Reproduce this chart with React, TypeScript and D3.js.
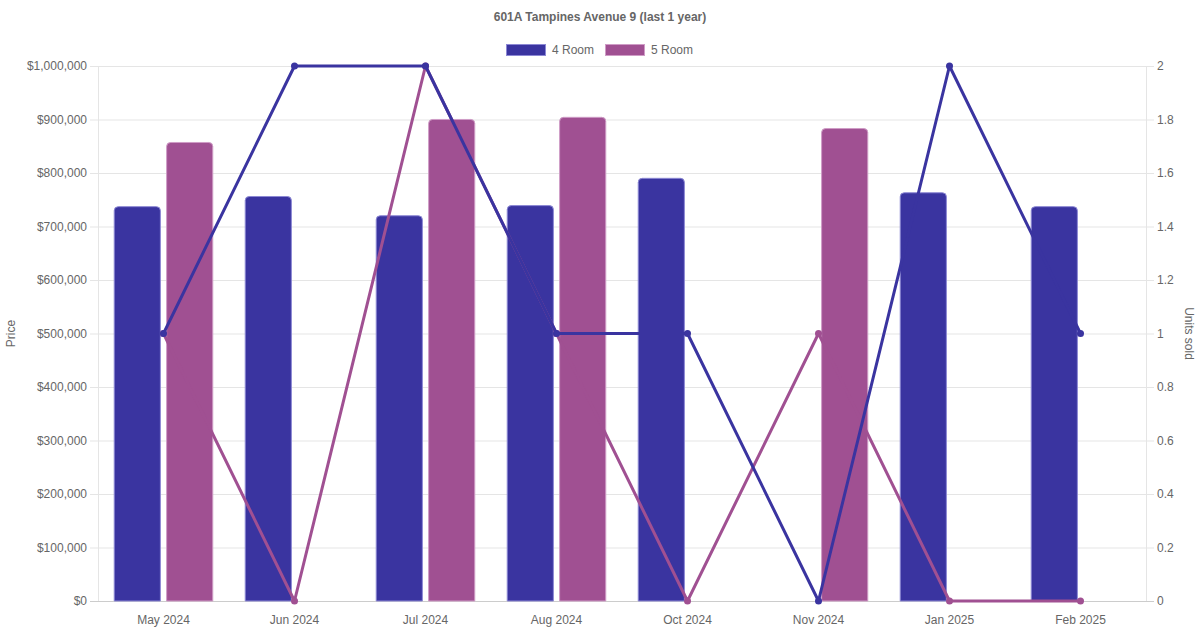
import { scaleBand, scaleLinear, line, format } from 'd3'

const months = ['May 2024', 'Jun 2024', 'Jul 2024', 'Aug 2024', 'Oct 2024', 'Nov 2024', 'Jan 2025', 'Feb 2025']
const price4: (number | null)[] = [738000, 757000, 721000, 740000, 791000, null, 764000, 738000]
const price5: (number | null)[] = [858000, null, 901000, 905000, null, 884000, null, null]
const units4 = [1, 2, 2, 1, 1, 0, 2, 1]
const units5 = [1, 0, 2, 1, 0, 1, 0, 0]
const priceTicks = [0, 100000, 200000, 300000, 400000, 500000, 600000, 700000, 800000, 900000, 1000000]
const unitTicks = [0, 0.2, 0.4, 0.6, 0.8, 1, 1.2, 1.4, 1.6, 1.8, 2]

const W = 1200
const H = 630
const left = 98
const right = 1146
const top = 66
const bottom = 601
const font = '"Liberation Sans", Arial, sans-serif'
const txt = '#666'
const grid = '#e5e5e5'

const series = [
  { name: '4 Room', fill: '#3a34a0', stroke: '#8c88d4', prices: price4, units: units4 },
  { name: '5 Room', fill: '#a05092', stroke: '#cf9cc6', prices: price5, units: units5 },
]

function barPath(x: number, y: number, w: number, h: number, r: number) {
  const rr = Math.min(r, h, w / 2)
  return `M${x},${y + h}V${y + rr}Q${x},${y} ${x + rr},${y}H${x + w - rr}Q${x + w},${y} ${x + w},${y + rr}V${y + h}Z`
}

export default function App() {
  const x = scaleBand<string>().domain(months).range([left, right])
  const inner = scaleBand<string>()
    .domain(series.map((s) => s.name))
    .range([0, x.bandwidth() * 0.8])
  const yP = scaleLinear().domain([0, 1000000]).range([bottom, top])
  const yU = scaleLinear().domain([0, 2]).range([bottom, top])
  const money = format('$,')
  const cx = (i: number) => (x(months[i]) ?? 0) + x.bandwidth() / 2
  const mkLine = line<number>()
    .x((_, i) => cx(i))
    .y((d) => yU(d))

  return (
    <svg width={W} height={H} style={{ position: 'absolute', left: 0, top: 0, background: '#fff' }} fontFamily={font}>
      <text x={W / 2} y={21} textAnchor="middle" fontSize={12} fontWeight="bold" fill={txt}>
        601A Tampines Avenue 9 (last 1 year)
      </text>
      {series.map((s, i) => {
        const lx = i === 0 ? 506 : 605
        return (
          <g key={s.name}>
            <rect x={lx + 0.5} y={44.5} width={39} height={11} fill={s.fill} stroke={s.stroke} strokeWidth={1} />
            <text x={lx + 46} y={54} fontSize={12} fill={txt}>
              {s.name}
            </text>
          </g>
        )
      })}

      {priceTicks.map((t, i) => (
        <g key={t}>
          <line x1={left - 8} x2={right + 8} y1={yP(t) + 0.5} y2={yP(t) + 0.5} stroke={i === 0 ? '#ccc' : grid} />
          <text x={left - 11} y={yP(t) + 4} textAnchor="end" fontSize={12} fill={txt}>
            {money(t)}
          </text>
        </g>
      ))}
      {unitTicks.map((t) => (
        <text key={t} x={right + 11} y={yU(t) + 4} fontSize={12} fill={txt}>
          {String(+t.toFixed(1))}
        </text>
      ))}
      <line x1={left + 0.5} x2={left + 0.5} y1={top} y2={bottom} stroke={grid} />
      <line x1={right + 0.5} x2={right + 0.5} y1={top} y2={bottom} stroke={grid} />

      {months.map((m, i) => (
        <text key={m} x={cx(i)} y={624} textAnchor="middle" fontSize={12} fill={txt}>
          {m}
        </text>
      ))}

      <text transform={`translate(15,${(top + bottom) / 2}) rotate(-90)`} textAnchor="middle" fontSize={12} fill={txt}>
        Price
      </text>
      <text transform={`translate(1185,${(top + bottom) / 2}) rotate(90)`} textAnchor="middle" fontSize={12} fill={txt}>
        Units sold
      </text>

      {series.map((s) =>
        s.prices.map((p, i) => {
          if (p == null) return null
          const slot = inner.bandwidth()
          const bw = slot * 0.9
          const bx = (x(months[i]) ?? 0) + x.bandwidth() * 0.1 + (inner(s.name) ?? 0) + (slot - bw) / 2
          const by = yP(p)
          return (
            <path
              key={s.name + i}
              d={barPath(bx + 0.5, by + 0.5, bw - 1, bottom - by - 0.5, 4)}
              fill={s.fill}
              stroke={s.stroke}
              strokeWidth={1}
            />
          )
        })
      )}

      {[...series].reverse().map((s) => (
        <g key={s.name + '-line'}>
          <path d={mkLine(s.units) ?? ''} fill="none" stroke={s.fill} strokeWidth={3} strokeLinejoin="round" />
          {s.units.map((u, i) => (
            <circle key={i} cx={cx(i)} cy={yU(u)} r={3.5} fill={s.fill} />
          ))}
        </g>
      ))}
    </svg>
  )
}
